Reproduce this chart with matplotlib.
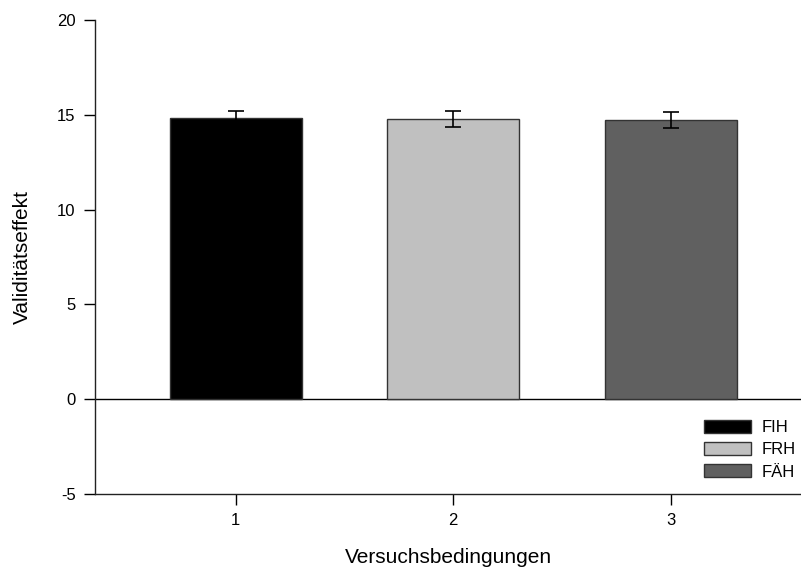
import matplotlib.pyplot as plt
import matplotlib.patches as mpatches

# ── Data ─────────────────────────────────────────────────────────────────────
conditions = [1, 2, 3]
labels     = ["FIH", "FRH", "FÄH"]
means      = [14.85, 14.78, 14.72]
errors     = [0.37, 0.43, 0.42]
colors     = ["#000000", "#c0c0c0", "#606060"]

plt.rcParams.update({
    "font.family": ["Liberation Sans", "DejaVu Sans"],
    "axes.spines.top":   False,
    "axes.spines.right": False,
    "axes.unicode_minus": False,
})

fig = plt.figure(figsize=(8.01, 5.74), dpi=100)
ax = fig.add_axes([95/801, 1 - 494/574, 706/801, 474/574])

ax.bar(conditions, means, width=0.607, color=colors, edgecolor="#333333",
       linewidth=1.0, zorder=2)
ax.errorbar(conditions, means, yerr=errors, fmt="none", ecolor="black",
            elinewidth=1.2, capsize=6, capthick=1.2, zorder=3)
ax.axhline(0, color="black", linewidth=1.0, zorder=1)

ax.set_xlim(0.352, 3.6)
ax.set_ylim(-5, 20)
ax.set_xticks(conditions)
ax.set_yticks([-5, 0, 5, 10, 15, 20])
ax.tick_params(direction="out", length=8, width=1.0, labelsize=12, pad=6)
for s in ["left", "bottom"]:
    ax.spines[s].set_linewidth(1.0)
    ax.spines[s].set_color("#222222")

ax.set_xlabel("Versuchsbedingungen", fontsize=15, labelpad=14)
ax.set_ylabel("Validitätseffekt", fontsize=15, labelpad=18)

handles = [mpatches.Patch(facecolor=c, edgecolor="#333333", label=l)
           for c, l in zip(colors, labels)]
ax.legend(handles=handles, loc="lower right", frameon=False, fontsize=12,
          handlelength=2.8, handleheight=0.8, labelspacing=0.42,
          handletextpad=0.65, borderaxespad=0.0, borderpad=0.3,
          bbox_to_anchor=(1.0, 0.02))

plt.savefig("out.png", dpi=100)
